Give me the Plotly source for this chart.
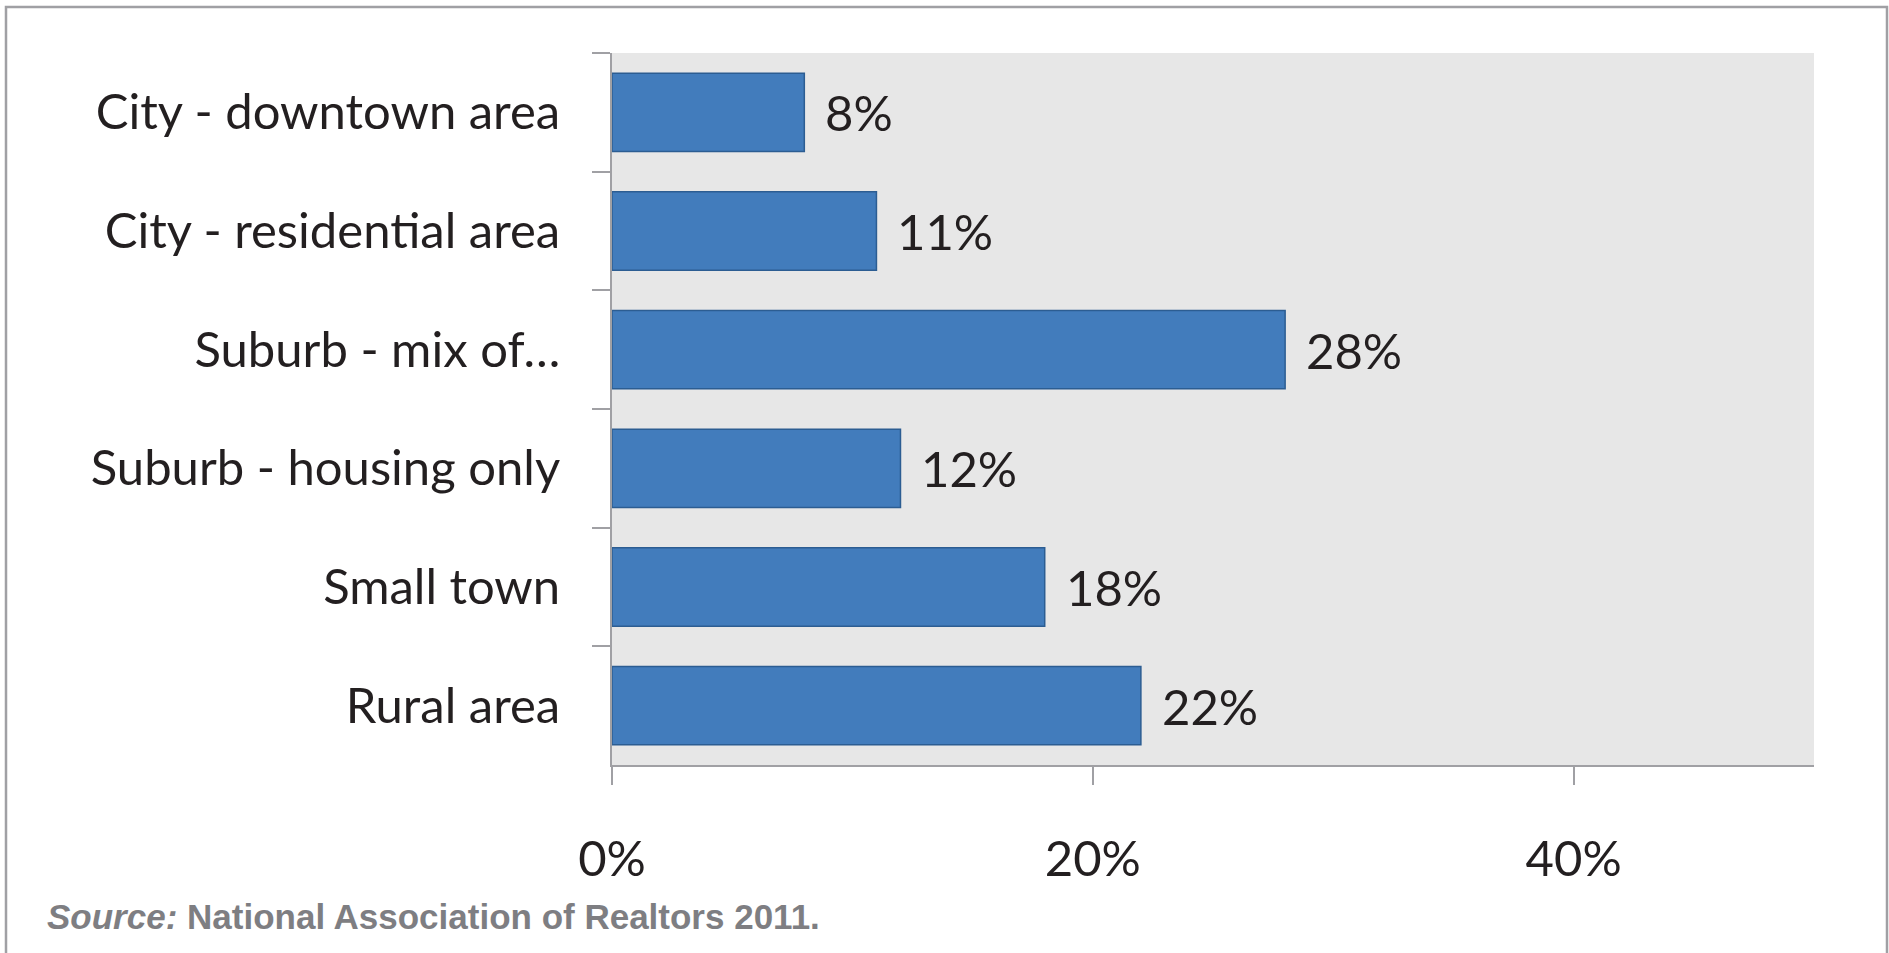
import plotly.graph_objects as go

categories = ["City - downtown area", "City - residential area", "Suburb - mix of…",
              "Suburb - housing only", "Small town", "Rural area"]
values = [8, 11, 28, 12, 18, 22]
x_ticks = [0, 20, 40]
x_tick_labels = ["0%", "20%", "40%"]
source_text = "<b><i>Source:</i> National Association of Realtors 2011.</b>"

W, H = 1889, 953
ML, MR, MT, MB = 612, 75, 53, 188
PW, PH = W - ML - MR, H - MT - MB

def px_x(p):
    return (p - ML) / PW

def px_y(p):
    return (H - MB - p) / PH

FONT = "Lato"
TXT = "#231F20"
AX = "#A0A0A4"

fig = go.Figure(go.Bar(
    x=values, y=categories, orientation="h",
    marker=dict(color="#427CBC", line=dict(color="#2C5D92", width=1.5)),
    width=0.66, hoverinfo="skip",
))

for v, c in zip(values, categories):
    fig.add_annotation(x=v, y=c, text=f"{v}%", showarrow=False, xanchor="left",
                       xshift=19, font=dict(family=FONT, size=49, color=TXT))

fig.add_annotation(x=px_x(45), y=px_y(916), xref="paper", yref="paper",
                   text=source_text, showarrow=False, xanchor="left", yanchor="middle",
                   font=dict(family="Liberation Sans Narrow, Arial Narrow, Liberation Sans",
                             size=35, color="#7E7E82"))

fig.add_shape(type="rect", xref="paper", yref="paper",
              x0=px_x(6), x1=px_x(1887), y0=px_y(980), y1=px_y(7),
              line=dict(color="#A0A0A4", width=2.5), layer="below")

fig.update_layout(
    width=W, height=H, autosize=False,
    margin=dict(l=ML, r=MR, t=MT, b=MB, autoexpand=False),
    paper_bgcolor="white", plot_bgcolor="#E7E7E7",
    showlegend=False,
    xaxis=dict(range=[0, 50], tickvals=x_ticks, ticktext=x_tick_labels,
               showgrid=False, zeroline=False, showline=True, linecolor=AX, linewidth=2,
               ticks="outside", ticklen=18, tickwidth=2, tickcolor=AX,
               ticklabelstandoff=32, automargin=False,
               tickfont=dict(family=FONT, size=49, color=TXT), fixedrange=True),
    yaxis=dict(categoryorder="array", categoryarray=categories, autorange="reversed",
               showgrid=False, zeroline=False, showline=True, linecolor=AX, linewidth=2,
               ticks="outside", tickson="boundaries", ticklen=18, tickwidth=2, tickcolor=AX,
               ticklabelstandoff=40, automargin=False,
               tickfont=dict(family=FONT, size=49, color=TXT), fixedrange=True),
)

fig.write_html("out.html", config={"displayModeBar": False},
               post_script="document.body.style.margin='0';document.body.style.overflow='hidden';")
